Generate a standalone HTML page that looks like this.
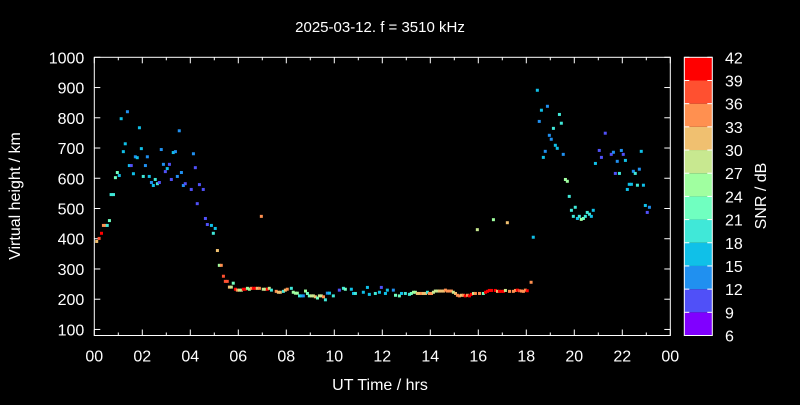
<!DOCTYPE html>
<html><head><meta charset="utf-8"><style>
html,body{margin:0;padding:0;background:#000;}
svg text{font-family:"Liberation Sans",sans-serif;fill:#fff;}
</style></head><body>
<svg id="chart" width="800" height="400" xmlns="http://www.w3.org/2000/svg">
<rect width="800" height="400" fill="#000"/>
<text x="380" y="32" font-size="15" text-anchor="middle">2025-03-12. f = 3510 kHz</text>
<text x="380" y="390" font-size="16" text-anchor="middle">UT Time / hrs</text>
<text transform="translate(20,196) rotate(-90)" font-size="16" text-anchor="middle">Virtual height / km</text>
<text transform="translate(766,196) rotate(-90)" font-size="16" text-anchor="middle">SNR / dB</text>
<g id="axes"></g>
<g id="points"></g>
<g id="cbar"></g>
</svg>
<script>
const times=[
0.1,0.2,0.3,0.38,0.46,0.54,0.63,0.7,0.8,0.88,
0.96,1.04,1.12,1.21,1.29,1.38,1.46,1.54,1.63,1.71,
1.79,1.88,1.96,2.04,2.13,2.21,2.29,2.38,2.46,2.54,
2.63,2.71,2.79,2.88,2.96,3.04,3.13,3.21,3.29,3.38,
3.46,3.54,3.63,3.71,3.79,4.04,4.13,4.21,4.29,4.38,
4.54,4.63,4.71,4.88,4.96,5.04,5.13,5.21,5.29,5.38,
5.46,5.54,5.63,5.71,5.79,5.88,5.96,6.04,6.13,6.21,
6.29,6.38,6.46,6.54,6.63,6.71,6.79,6.88,6.96,7.04,
7.13,7.21,7.29,7.38,7.58,7.67,7.75,7.88,7.96,8.04,
8.21,8.29,8.38,8.46,8.55,8.63,8.71,8.8,8.88,8.96,
9.05,9.13,9.21,9.3,9.38,9.46,9.55,9.63,9.71,9.8,
9.96,10.21,10.38,10.46,10.71,10.8,10.88,11.21,11.38,11.46,
11.71,11.88,11.96,12.13,12.21,12.46,12.55,12.71,12.8,12.96,
13.13,13.21,13.3,13.38,13.46,13.55,13.63,13.71,13.8,13.88,
13.96,14.05,14.13,14.21,14.3,14.38,14.46,14.55,14.63,14.71,
14.8,14.88,14.96,15.05,15.13,15.21,15.3,15.38,15.46,15.55,
15.63,15.71,15.8,15.88,15.96,16.05,16.21,16.3,16.38,16.46,
16.55,16.63,16.71,16.8,16.88,16.96,17.05,17.13,17.21,17.3,
17.46,17.55,17.63,17.71,17.8,17.88,17.96,18.04,18.2,18.29,
18.46,18.54,18.63,18.71,18.79,18.88,18.96,19.04,19.13,19.21,
19.29,19.38,19.46,19.54,19.63,19.71,19.79,19.88,19.96,20.04,
20.13,20.21,20.29,20.38,20.46,20.54,20.63,20.71,20.79,20.88,
21.04,21.13,21.29,21.54,21.63,21.71,21.79,21.88,21.96,22.04,
22.13,22.21,22.29,22.38,22.46,22.54,22.63,22.71,22.79,22.88,
22.96,23.04,23.13];
const heights=[
391,401,418,444,444,444,460,546,546,602,
619,609,797,688,714,820,642,642,615,671,
668,767,698,606,642,671,606,586,576,596,
582,586,695,646,622,632,646,596,685,688,
606,757,619,576,582,563,681,635,516,579,
563,467,447,444,418,434,361,312,312,276,
259,259,240,240,253,233,230,230,230,233,
233,236,233,236,236,236,236,236,474,233,
233,233,236,230,226,223,223,226,230,233,
236,223,220,220,211,211,211,227,219,211,
211,211,208,204,211,211,208,198,220,220,
211,230,236,233,233,219,219,223,239,216,
219,223,239,219,230,230,213,211,219,219,
216,219,223,223,219,219,219,219,219,223,
219,219,223,227,227,227,227,227,230,227,
227,227,223,219,213,211,213,213,211,213,
211,216,219,219,430,219,219,223,226,229,
229,463,229,226,226,226,226,229,453,226,
226,229,230,228,227,226,230,228,256,405,
891,788,825,669,689,838,742,729,765,709,
699,811,782,679,596,590,540,494,474,504,
467,474,464,467,474,487,481,474,494,649,
692,669,749,679,686,616,656,616,692,679,
659,563,580,580,623,616,577,630,689,577,
510,487,504];
const snrs=[
31,38,40,34,34,19,22,19,19,22,
22,16,16,16,16,13,16,10,16,13,
16,16,16,19,13,13,16,13,16,20,
19,10,13,13,10,16,10,10,16,13,
13,13,13,13,10,10,13,10,10,10,
10,10,10,16,19,16,31,26,35,38,
38,38,30,29,22,39,34,28,28,39,
40,24,24,33,40,40,30,35,34,28,
28,40,28,19,35,31,31,19,31,34,
20,24,24,24,19,16,13,24,23,23,
28,28,30,22,28,28,34,19,13,16,
19,10,19,23,16,16,19,16,16,16,
19,16,10,16,16,13,22,22,16,19,
19,22,26,26,30,30,34,30,30,19,
34,34,27,27,27,30,30,30,34,34,
34,34,27,30,34,34,30,34,40,34,
40,40,27,34,27,34,22,40,40,40,
40,24,40,30,40,40,40,27,31,34,
34,34,40,38,34,35,34,40,35,16,
16,13,16,16,13,13,13,13,19,16,
16,19,19,13,24,24,19,19,19,19,
16,19,24,22,19,19,19,16,16,16,
10,10,10,10,13,10,13,19,13,10,
16,16,16,16,13,19,19,13,16,16,
16,10,13];
const cbTicks=[6,9,12,15,18,21,24,27,30,33,36,39,42];
const bandColors=["#8000ff","#5050f8","#2090f0","#10c0e8","#40e8d8","#70ffc0","#a0ffa0","#c8e890","#f0c070","#ff9050","#ff5030","#ff0000"];
const xTicks=["00","02","04","06","08","10","12","14","16","18","20","22","00"];
const yTicks=[100,200,300,400,500,600,700,800,900,1000];

const NS="http://www.w3.org/2000/svg";
const X0=94.3,X1=670.3,Y0=57.3,Y1=335.5,HMIN=80,HMAX=1000;
const xs=t=>X0+(t/24)*(X1-X0);
const ys=h=>Y1-(h-HMIN)/(HMAX-HMIN)*(Y1-Y0);
const CB0=684.3,CB1=712.3;
const cbY=v=>Y1-(v-6)/36*(Y1-Y0);
function mk(tag,attrs,parent){const e=document.createElementNS(NS,tag);for(const k in attrs)e.setAttribute(k,attrs[k]);parent.appendChild(e);return e;}
function color(s){let i=Math.floor((s-6)/3);i=Math.max(0,Math.min(11,i));return bandColors[i];}

const ax=document.getElementById('axes');
let fr=mk('rect',{x:X0,y:Y0,width:X1-X0,height:Y1-Y0,fill:'none',stroke:'#fff','stroke-width':1},ax);


for(let h=0;h<=24;h++){
  const x=xs(h),L=(h%2===0)?6:3;
  mk('line',{x1:x,x2:x,y1:Y1,y2:Y1-L,stroke:'#fff'},ax);
  mk('line',{x1:x,x2:x,y1:Y0,y2:Y0+L,stroke:'#fff'},ax);
}
xTicks.forEach((lab,i)=>{
  const t=mk('text',{x:xs(i*2),y:Y1+26,'font-size':16,'text-anchor':'middle'},ax);
  t.textContent=lab;
  
  
});
yTicks.forEach(v=>{
  const y=ys(v);
  mk('line',{x1:X0,x2:X0+6,y1:y,y2:y,stroke:'#fff'},ax);
  mk('line',{x1:X1,x2:X1-6,y1:y,y2:y,stroke:'#fff'},ax);
  const t=mk('text',{x:X0-10,y:y+6,'font-size':16,'text-anchor':'end'},ax);
  t.textContent=v;
  
  
});

const pg=document.getElementById('points');
const n=Math.min(times.length,heights.length,snrs.length);
for(let i=0;i<n;i++){
  const r=mk('rect',{x:xs(times[i])-1.5,y:ys(heights[i])-1.5,width:3,height:3,fill:color(snrs[i])},pg);
  
  
}

const cb=document.getElementById('cbar');
bandColors.forEach((c,i)=>{
  const yTop=cbY(cbTicks[i+1]),yBot=cbY(cbTicks[i]);
  const r=mk('rect',{x:CB0,y:yTop,width:CB1-CB0,height:yBot-yTop,fill:c},cb);
  
  
});
mk('rect',{x:CB0,y:Y0,width:CB1-CB0,height:Y1-Y0,fill:'none',stroke:'#fff'},cb);
cbTicks.forEach(v=>{
  const y=cbY(v);
  mk('line',{x1:CB0,x2:CB0+5,y1:y,y2:y,stroke:'#fff'},cb);
  mk('line',{x1:CB1,x2:CB1-5,y1:y,y2:y,stroke:'#fff'},cb);
  const t=mk('text',{x:725,y:y+6,'font-size':16,'text-anchor':'start'},cb);
  t.textContent=v;
  
  
});
</script>
</body></html>
